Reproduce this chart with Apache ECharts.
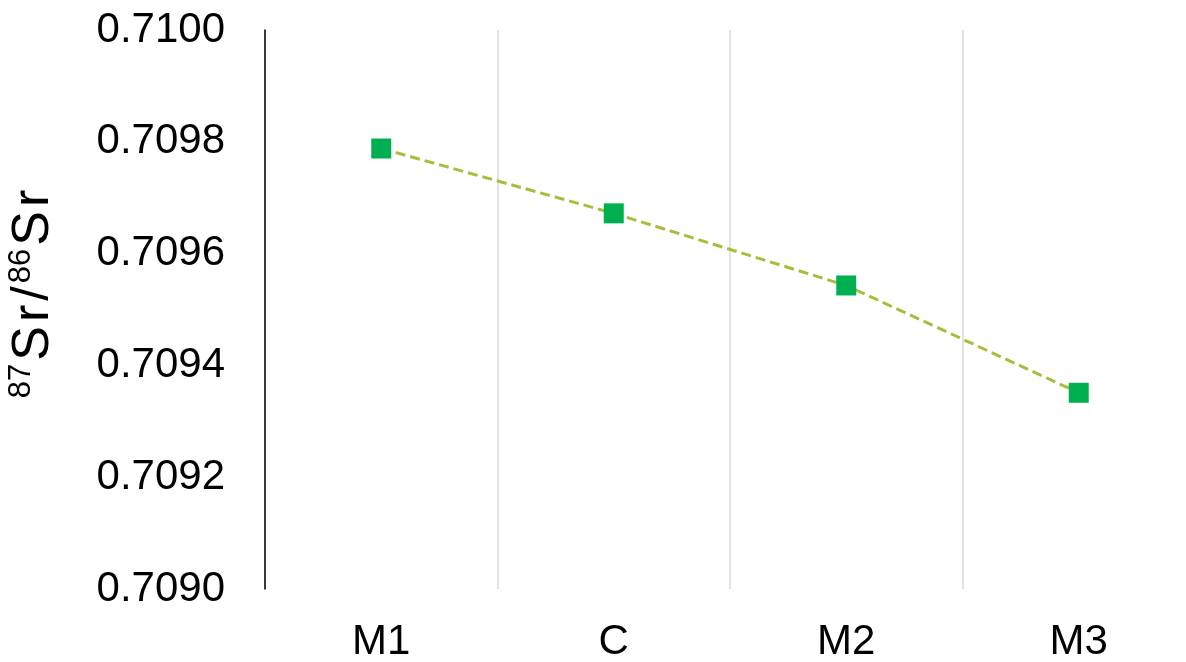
<!DOCTYPE html>
<html>
<head>
<meta charset="utf-8">
<script src="https://cdn.jsdelivr.net/npm/echarts@6/dist/echarts.min.js"></script>
<style>html,body{margin:0;padding:0;background:#fff;overflow:hidden;}#c{width:1186px;height:662px;}</style>
</head>
<body>
<div id="c"></div>
<script>
const categories = ['M1', 'C', 'M2', 'M3'];
const ratioValues = [0.709788, 0.709672, 0.709543, 0.709351];
const yMin = 0.7090, yMax = 0.7100, yStep = 0.0002;

const FONT = 'Liberation Sans, Arial, sans-serif';
const chart = echarts.init(document.getElementById('c'));
chart.setOption({
  animation: false,
  backgroundColor: '#ffffff',
  grid: { left: 265, width: 930, top: 30, bottom: 73, outerBoundsMode: 'none', containLabel: false },
  xAxis: {
    type: 'category',
    data: categories,
    boundaryGap: true,
    axisLine: { show: false },
    axisTick: { show: false },
    axisLabel: { color: '#000', fontSize: 42, fontFamily: FONT, margin: 32 },
    splitLine: { show: true, lineStyle: { color: '#d9d9d9', width: 1.5 } }
  },
  yAxis: {
    type: 'value',
    min: yMin, max: yMax, interval: yStep,
    axisLine: { show: true, lineStyle: { color: '#000', width: 1.5 } },
    axisTick: { show: false },
    splitLine: { show: false },
    axisLabel: {
      color: '#000', fontSize: 42, fontFamily: FONT, margin: 40,
      formatter: v => v.toFixed(4)
    },
    name: '{sup|87}{b|S}{b|r}{b|/}{sup|86}{b|S}{b|r}',
    nameLocation: 'middle',
    nameRotate: 90,
    nameGap: 205,
    nameTextStyle: {
      color: '#000',
      fontFamily: FONT,
      padding: [0, 0, 0, 32],
      rich: {
        b: { fontSize: 52, fontFamily: FONT, color: '#000', verticalAlign: 'bottom', lineHeight: 54, padding: [0, 2, 0, 2] },
        sup: { fontSize: 31, fontFamily: FONT, color: '#000', verticalAlign: 'top', lineHeight: 54, padding: [0, 1, 0, 1] }
      }
    }
  },
  series: [{
    type: 'line',
    data: ratioValues,
    symbol: 'rect',
    symbolSize: 20,
    itemStyle: { color: '#00B050' },
    lineStyle: { color: '#A2C03C', width: 3, type: [10, 5] },
    z: 3
  }]
});
</script>
</body>
</html>
